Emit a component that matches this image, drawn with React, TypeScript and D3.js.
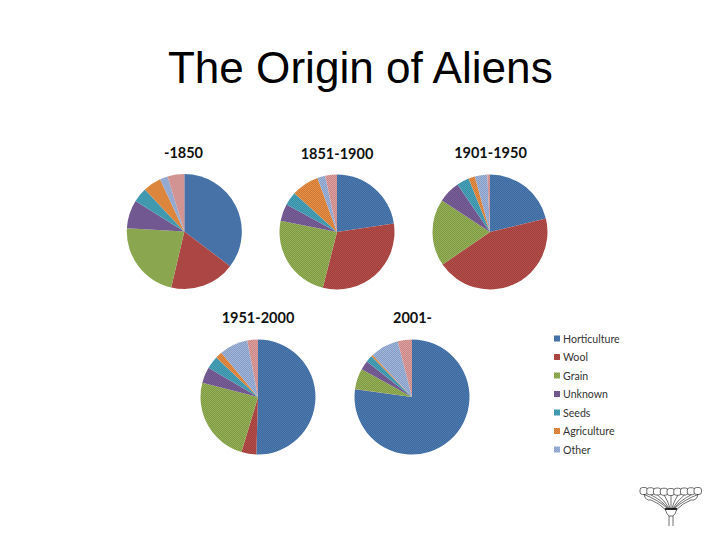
import React from "react";
import * as d3 from "d3";

const title = "The Origin of Aliens";
const categories = ["Horticulture", "Wool", "Grain", "Unknown", "Seeds", "Agriculture", "Other", "Unlabelled"];
const legendCategories = categories.slice(0, 7);
const palette = ["#4572A7", "#AA4643", "#89A54E", "#71588F", "#4198AF", "#DB843D", "#93A9CF", "#D19392"];

const period1 = { label: "-1850", values: [35.3, 18.3, 22.2, 8.0, 4.1, 5.1, 2.2, 4.7] };
const period2 = { label: "1851-1900", values: [22.6, 31.3, 24.1, 4.8, 3.8, 7.75, 2.2, 3.3] };
const period3 = { label: "1901-1950", values: [21.2, 44.2, 18.8, 6.2, 3.5, 1.8, 3.5, 0.75] };
const period4 = { label: "1951-2000", values: [50.4, 4.2, 24.3, 4.5, 3.6, 1.9, 8, 3] };
const period5 = { label: "2001-", values: [77.2, 0.1, 5.8, 2.6, 1.9, 0.5, 8, 4] };

const layouts = [
  { cx: 184.3, cy: 231.5, tx: 183.5, ty: 158 },
  { cx: 337, cy: 232, tx: 337, ty: 159 },
  { cx: 490, cy: 232, tx: 490.5, ty: 158 },
  { cx: 258, cy: 397, tx: 258, ty: 323 },
  { cx: 412, cy: 397, tx: 412.5, ty: 323 },
];
const periods = [period1, period2, period3, period4, period5];
const R = 57.5;

const pie = d3.pie<number>().sort(null);
const arc = d3.arc<d3.PieArcDatum<number>>().innerRadius(0).outerRadius(R);

const petalCount = 9;
const logoCx = 671;
const logoBase = 509;
const logoPetals = d3.range(petalCount).map((i) => {
  const t = i / (petalCount - 1) - 0.5;
  return { x: logoCx + t * 54, y: 491.5 - Math.abs(t) * 2 };
});

function Logo() {
  return (
    <g fill="none" stroke="#333" strokeWidth={0.7}>
      {logoPetals.map((p, i) => (
        <g key={i}>
          <rect x={p.x - 4} y={p.y - 3} width={7.5} height={7} rx={2.5} fill="#fff" />
          <path d={`M${logoCx + (p.x - logoCx) * 0.1},${logoBase} Q${logoCx + (p.x - logoCx) * 0.5},${p.y + 9} ${p.x},${p.y + 4}`} />
        </g>
      ))}
      <path d={`M${logoCx - 27},${494} Q${logoCx - 26},${501} ${logoCx - 20},${500} Q${logoCx - 12},${503} ${logoCx - 5},${510}`} />
      <path d={`M${logoCx + 27},${494} Q${logoCx + 26},${501} ${logoCx + 20},${500} Q${logoCx + 12},${503} ${logoCx + 5},${510}`} />
      <path d={`M${logoCx - 6},${509} L${logoCx + 6},${509}`} strokeWidth={1.8} stroke="#111" />
      <path d={`M${logoCx - 6},${509} Q${logoCx - 4},${515} ${logoCx - 2},${516} L${logoCx + 2},${516} Q${logoCx + 4},${515} ${logoCx + 6},${509}`} />
      <path d={`M${logoCx - 2},${516} L${logoCx - 2},${526} M${logoCx + 2},${516} L${logoCx + 2},${526}`} />
    </g>
  );
}

export default function App() {
  return (
    <svg width={720} height={540} style={{ position: "absolute", left: 0, top: 0, background: "#fff" }}>
      <defs>
        {palette.map((c, i) => (
          <pattern key={i} id={`dither${i}`} width={2} height={2} patternUnits="userSpaceOnUse">
            <rect width={2} height={2} fill={d3.color(c)!.brighter(0.22).formatHex()} />
            <rect width={1} height={1} fill={d3.color(c)!.darker(0.22).formatHex()} />
            <rect x={1} y={1} width={1} height={1} fill={d3.color(c)!.darker(0.22).formatHex()} />
          </pattern>
        ))}
      </defs>
      <text x={360.3} y={83} textAnchor="middle" fontFamily="Liberation Sans" fontSize={44.1} fill="#000">
        {title}
      </text>
      {periods.map((p, k) => {
        const l = layouts[k];
        return (
          <g key={p.label}>
            <text x={l.tx} y={l.ty} textAnchor="middle" fontFamily="Lato" fontWeight={700} fontSize={14.5} fill="#111">
              {p.label}
            </text>
            <g transform={`translate(${l.cx},${l.cy})`}>
              {pie(p.values).map((d, i) => (
                <path key={categories[i]} d={arc(d) ?? ""} fill={`url(#dither${i})`} />
              ))}
            </g>
          </g>
        );
      })}
      {legendCategories.map((c, i) => {
        const y = 338.5 + i * 18.5;
        return (
          <g key={c}>
            <rect x={554} y={y - 3} width={6} height={6} fill={`url(#dither${i})`} />
            <text x={563} y={y + 4} fontFamily="Lato" fontSize={10.6} fill="#333">
              {c}
            </text>
          </g>
        );
      })}
      <Logo />
    </svg>
  );
}
